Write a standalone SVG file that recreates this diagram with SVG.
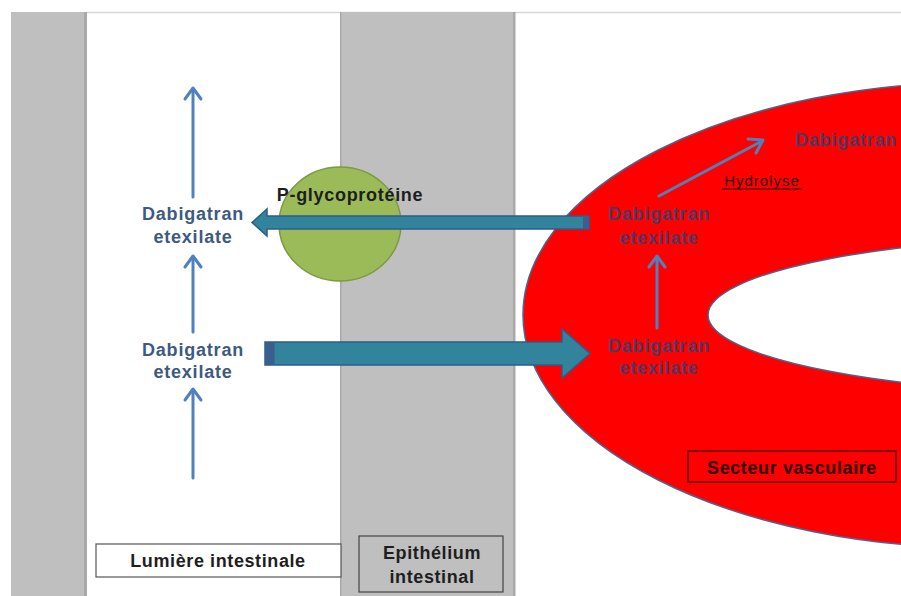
<svg xmlns="http://www.w3.org/2000/svg" width="901" height="596" viewBox="0 0 901 596">
<defs>
<style>
.band{fill:#bfbfbf;}
.bandEdge{fill:#a9a9a9;}
.thin{stroke:#4f81bd;stroke-width:3;fill:none;stroke-linecap:round;stroke-linejoin:round;}
.lbl{font-family:"Liberation Sans",Arial,sans-serif;font-weight:bold;font-size:18px;letter-spacing:0.8px;text-anchor:middle;}
.blue{fill:#3d5a80;}
.dark{fill:#4b3a63;}
.blk{fill:#1e1e1e;}
.block{fill:#31849b;stroke:#2f5b8c;stroke-width:1.5;stroke-linejoin:miter;}
</style>
</defs>
<rect x="0" y="0" width="901" height="596" fill="#ffffff"/>
<g id="lumen-band">
<rect class="band" x="11" y="12" width="76" height="584"/>
<rect class="bandEdge" x="84" y="12" width="3" height="584"/>
</g>
<line x1="87" y1="12.5" x2="901" y2="12.5" stroke="#d6d6d6" stroke-width="1.5"/>
<g id="epithelium-band">
<rect class="band" x="340" y="12" width="175" height="584"/>
<rect class="bandEdge" x="340" y="12" width="1.5" height="584"/>
<rect class="bandEdge" x="513" y="12" width="2.5" height="584"/>
</g>
<g id="vascular-ring">
<ellipse cx="983" cy="315" rx="460" ry="233" fill="#ff0000" stroke="#4a6592" stroke-width="1.5"/>
<ellipse cx="1128" cy="315" rx="420" ry="80" fill="#ffffff" stroke="#4a6592" stroke-width="1.5"/>
</g>
<g id="pgp">
<ellipse cx="340" cy="224" rx="61" ry="57" fill="#9bbb59" stroke="#7a9a45" stroke-width="1.5"/>
<text class="lbl blk" x="350" y="201" style="letter-spacing:0.7px">P-glycoprotéine</text>
</g>
<g id="connectors">
<!-- efflux block arrow (right to left) -->
<polygon class="block" points="589,216 267,216 267,209 252,222.5 267,236 267,229 589,229"/>
<rect x="583" y="216.5" width="6" height="12" fill="#3a5f8f"/>
<!-- absorption block arrow (left to right) -->
<polygon class="block" points="265,342 562,342 562,329 590,353.5 562,378 562,365 265,365"/>
<rect x="265.5" y="342.5" width="9" height="22" fill="#3a5f8f"/>
<!-- thin arrows, lumen -->
<line class="thin" x1="193" y1="197" x2="193" y2="89"/>
<polyline class="thin" points="185,99 193,88 201,99"/>
<line class="thin" x1="193" y1="332" x2="193" y2="257"/>
<polyline class="thin" points="185,267 193,256 201,267"/>
<line class="thin" x1="193" y1="478" x2="193" y2="390"/>
<polyline class="thin" points="185,400 193,389 201,400"/>
<!-- vascular -->
<line class="thin" x1="657" y1="328" x2="657" y2="257"/>
<polyline class="thin" points="649,267 657,256 665,267"/>
<line class="thin" x1="659" y1="196" x2="762" y2="141"/>
<polyline class="thin" points="748,139 763,140 756,153"/>
</g>
<g id="lumen-drug-top">
<text class="lbl blue" x="193" y="220">Dabigatran</text>
<text class="lbl blue" x="193" y="243">etexilate</text>
</g>
<g id="lumen-drug-bottom">
<text class="lbl blue" x="193" y="356">Dabigatran</text>
<text class="lbl blue" x="193" y="378">etexilate</text>
</g>
<g id="vascular-drug-top">
<text class="lbl dark" x="659" y="220">Dabigatran</text>
<text class="lbl dark" x="659" y="244">etexilate</text>
</g>
<g id="vascular-drug-bottom">
<text class="lbl dark" x="659" y="352">Dabigatran</text>
<text class="lbl dark" x="659" y="374">etexilate</text>
</g>
<g id="dabigatran">
<text class="lbl dark" x="846" y="146">Dabigatran</text>
</g>
<g id="hydrolyse">
<text x="762" y="186" font-family="Liberation Sans,Arial,sans-serif" font-size="15" letter-spacing="1" text-anchor="middle" fill="#2a0a0a">Hydrolyse</text>
<line x1="722" y1="189" x2="802" y2="189" stroke="#2a0a0a" stroke-width="1.2"/>
</g>
<g id="label-lumiere">
<rect x="96" y="544" width="245" height="33" fill="#ffffff" stroke="#555555" stroke-width="1.2"/>
<text class="lbl blk" x="218" y="567" style="letter-spacing:0.6px">Lumière intestinale</text>
</g>
<g id="label-epithelium">
<rect x="359" y="536" width="144" height="56" fill="#bfbfbf" stroke="#444444" stroke-width="1.2"/>
<text class="lbl blk" x="432" y="559" style="letter-spacing:0.6px">Epithélium</text>
<text class="lbl blk" x="432" y="583" style="letter-spacing:0.6px">intestinal</text>
</g>
<g id="label-vasculaire">
<rect x="688" y="451" width="208" height="31" fill="#ff0000" stroke="#5a0000" stroke-width="1.5"/>
<text class="lbl" x="792" y="474" fill="#2a0000" style="letter-spacing:0.6px">Secteur vasculaire</text>
</g>
</svg>
